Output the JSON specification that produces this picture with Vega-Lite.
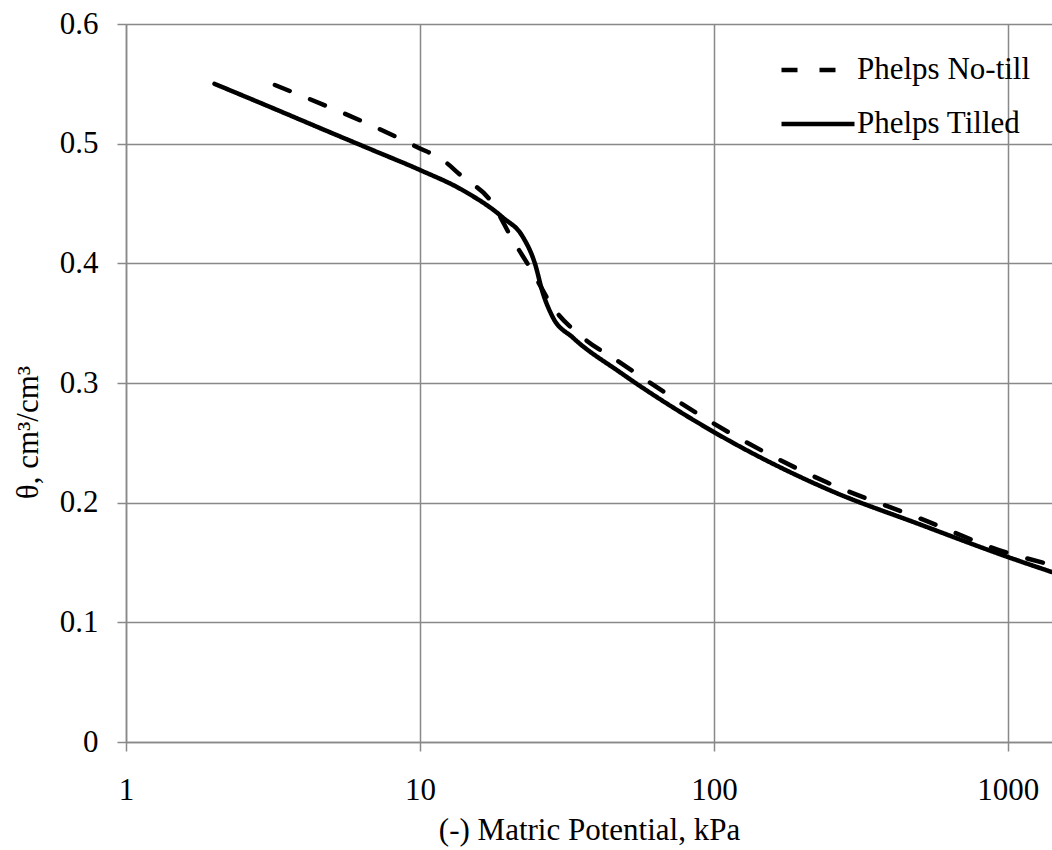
{
  "$schema": "https://vega.github.io/schema/vega-lite/v6.json",
  "width": 926,
  "height": 718,
  "autosize": {"type": "none"},
  "padding": {"left": 126, "top": 24, "right": 0, "bottom": 108},
  "background": "white",
  "config": {"view": {"stroke": null}, "font": "Liberation Serif"},
  "data": {
    "values": [
      {"series": "Phelps Tilled", "kPa": 2, "theta": 0.55},
      {"series": "Phelps Tilled", "kPa": 3, "theta": 0.532},
      {"series": "Phelps Tilled", "kPa": 5, "theta": 0.509},
      {"series": "Phelps Tilled", "kPa": 7, "theta": 0.494},
      {"series": "Phelps Tilled", "kPa": 10, "theta": 0.478},
      {"series": "Phelps Tilled", "kPa": 14, "theta": 0.461},
      {"series": "Phelps Tilled", "kPa": 19.2, "theta": 0.438},
      {"series": "Phelps Tilled", "kPa": 22.4, "theta": 0.422},
      {"series": "Phelps Tilled", "kPa": 24.6, "theta": 0.4},
      {"series": "Phelps Tilled", "kPa": 26.2, "theta": 0.375},
      {"series": "Phelps Tilled", "kPa": 28.3, "theta": 0.355},
      {"series": "Phelps Tilled", "kPa": 33.1, "theta": 0.338},
      {"series": "Phelps Tilled", "kPa": 47.9, "theta": 0.309},
      {"series": "Phelps Tilled", "kPa": 100, "theta": 0.259},
      {"series": "Phelps Tilled", "kPa": 250, "theta": 0.21},
      {"series": "Phelps Tilled", "kPa": 500, "theta": 0.182},
      {"series": "Phelps Tilled", "kPa": 1000, "theta": 0.1546},
      {"series": "Phelps Tilled", "kPa": 1413, "theta": 0.142},
      {"series": "Phelps No-till", "kPa": 3.21, "theta": 0.549},
      {"series": "Phelps No-till", "kPa": 8.75, "theta": 0.503},
      {"series": "Phelps No-till", "kPa": 10, "theta": 0.496},
      {"series": "Phelps No-till", "kPa": 11.7, "theta": 0.488},
      {"series": "Phelps No-till", "kPa": 14, "theta": 0.472},
      {"series": "Phelps No-till", "kPa": 17.3, "theta": 0.453},
      {"series": "Phelps No-till", "kPa": 20.7, "theta": 0.4195},
      {"series": "Phelps No-till", "kPa": 24, "theta": 0.394},
      {"series": "Phelps No-till", "kPa": 28.3, "theta": 0.3635},
      {"series": "Phelps No-till", "kPa": 35.8, "theta": 0.338},
      {"series": "Phelps No-till", "kPa": 46.7, "theta": 0.319},
      {"series": "Phelps No-till", "kPa": 100, "theta": 0.266},
      {"series": "Phelps No-till", "kPa": 242, "theta": 0.217},
      {"series": "Phelps No-till", "kPa": 500, "theta": 0.187},
      {"series": "Phelps No-till", "kPa": 1000, "theta": 0.158},
      {"series": "Phelps No-till", "kPa": 1413, "theta": 0.148}
    ]
  },
  "mark": {"type": "line", "interpolate": "monotone", "strokeWidth": 4.5, "strokeCap": "round", "clip": true, "color": "black"},
  "encoding": {
    "x": {
      "field": "kPa",
      "type": "quantitative",
      "scale": {"type": "log", "domain": [1, 1413], "nice": false},
      "axis": {
        "values": [1, 10, 100, 1000],
        "format": "d",
        "title": "(-) Matric Potential, kPa",
        "titleFont": "Liberation Serif",
        "titleFontSize": 31,
        "titleFontWeight": "normal",
        "titleColor": "black",
        "titleBaseline": "alphabetic",
        "titleX": 463,
        "titleY": 97,
        "titleAlign": "center",
        "labelFont": "Liberation Serif",
        "labelFontSize": 31,
        "labelColor": "black",
        "labelPadding": 24,
        "labelFlush": false,
        "labelOverlap": false,
        "tickSize": 9,
        "tickColor": "#898989",
        "tickWidth": 1.5,
        "domainColor": "#898989",
        "domainWidth": 1.5,
        "grid": true,
        "gridColor": "#898989",
        "gridWidth": 1.5
      }
    },
    "y": {
      "field": "theta",
      "type": "quantitative",
      "scale": {"domain": [0, 0.6], "nice": false},
      "axis": {
        "values": [0, 0.1, 0.2, 0.3, 0.4, 0.5, 0.6],
        "format": "~g",
        "title": "θ, cm³/cm³",
        "titleFont": "Liberation Serif",
        "titleFontSize": 31,
        "titleFontWeight": "normal",
        "titleColor": "black",
        "titleBaseline": "alphabetic",
        "titleAngle": -90,
        "titleX": -89,
        "titleY": 408,
        "titleAlign": "center",
        "labelFont": "Liberation Serif",
        "labelFontSize": 31,
        "labelColor": "black",
        "labelPadding": 19,
        "labelFlush": false,
        "labelOverlap": false,
        "tickSize": 9,
        "tickColor": "#898989",
        "tickWidth": 1.5,
        "domainColor": "#898989",
        "domainWidth": 1.5,
        "grid": true,
        "gridColor": "#898989",
        "gridWidth": 1.5
      }
    },
    "strokeDash": {
      "field": "series",
      "type": "nominal",
      "scale": {"domain": ["Phelps No-till", "Phelps Tilled"], "range": [[16, 22], [1, 0]]},
      "legend": {
        "title": null,
        "orient": "none",
        "legendX": 653,
        "legendY": 7,
        "symbolType": "stroke",
        "symbolSize": 5329,
        "symbolStrokeWidth": 4.5,
        "symbolStrokeColor": "black",
        "labelFont": "Liberation Serif",
        "labelFontSize": 31,
        "labelColor": "black",
        "labelLimit": 400,
        "labelOffset": 0,
        "rowPadding": -2
      }
    }
  }
}
